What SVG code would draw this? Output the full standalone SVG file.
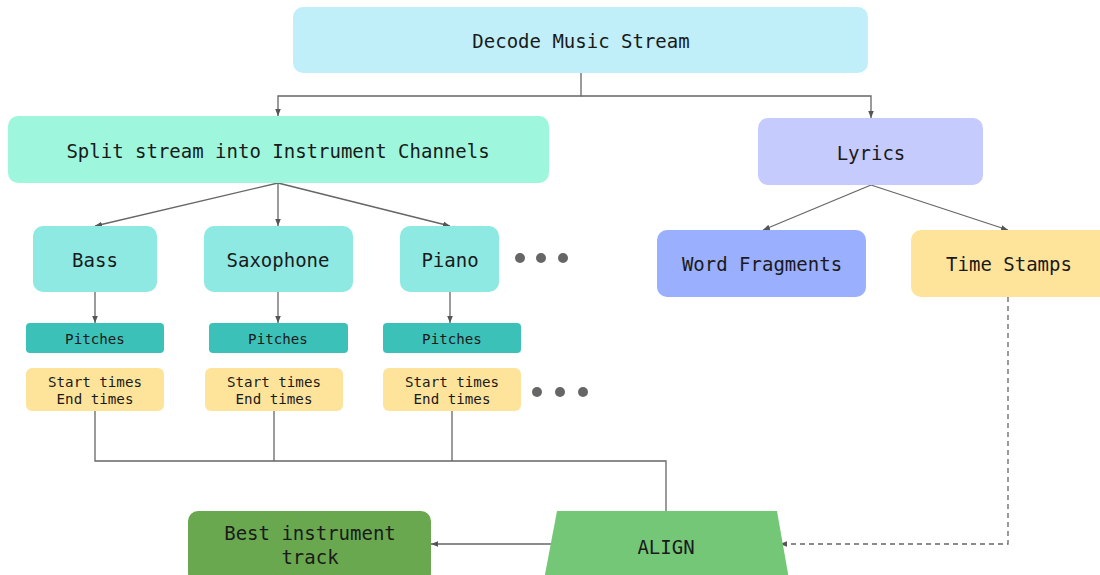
<svg xmlns="http://www.w3.org/2000/svg" width="1100" height="575" viewBox="0 0 1100 575">
  <style>
    .lbl { font-family: "DejaVu Sans Mono", "Liberation Mono", monospace; font-size: 19px; fill: #1a1a1a; text-anchor: middle; dominant-baseline: central; }
    .sm { font-size: 14.2px; }
    .edge { fill: none; stroke: #666; stroke-width: 1.3; }
    .dash { stroke-dasharray: 5 4; }
    .dot { fill: #666; }
  </style>
  <defs>
    <marker id="arrow" viewBox="0 0 10 10" refX="10" refY="5" markerWidth="7" markerHeight="7" orient="auto-start-reverse" markerUnits="userSpaceOnUse">
      <path d="M0,1 L10,5 L0,9 Z" fill="#555"/>
    </marker>
  </defs>

  <!-- connectors -->
  <g id="connectors">
    <path class="edge" d="M581,73 V96 H278 V116" marker-end="url(#arrow)"/>
    <path class="edge" d="M581,96 H871 V118" marker-end="url(#arrow)"/>
    <path class="edge" d="M278,183 L95,226" marker-end="url(#arrow)"/>
    <path class="edge" d="M278,183 V226" marker-end="url(#arrow)"/>
    <path class="edge" d="M278,183 L450,226" marker-end="url(#arrow)"/>
    <path class="edge" d="M95,292 V323" marker-end="url(#arrow)"/>
    <path class="edge" d="M278,292 V323" marker-end="url(#arrow)"/>
    <path class="edge" d="M450,292 V323" marker-end="url(#arrow)"/>
    <path class="edge" d="M871,185 L763,230" marker-end="url(#arrow)"/>
    <path class="edge" d="M871,185 L1008,230" marker-end="url(#arrow)"/>
    <path class="edge" d="M95,411 V461 H666 V511"/>
    <path class="edge" d="M274,411 V461"/>
    <path class="edge" d="M452,411 V461"/>
    <path class="edge" d="M552,544 H431" marker-end="url(#arrow)"/>
    <path class="edge dash" d="M1008,297 V544 H780" marker-end="url(#arrow)"/>
  </g>

  <g id="decode">
    <rect x="293" y="7" width="575" height="66" rx="10" fill="#c0eff9"/>
    <text class="lbl" x="581" y="41">Decode Music Stream</text>
  </g>
  <g id="split">
    <rect x="8" y="116" width="541" height="67" rx="10" fill="#9ef7dd"/>
    <text class="lbl" x="278" y="151">Split stream into Instrument Channels</text>
  </g>
  <g id="lyrics">
    <rect x="758" y="118" width="225" height="67" rx="10" fill="#c5cbfd"/>
    <text class="lbl" x="871" y="153">Lyrics</text>
  </g>

  <g id="bass">
    <rect x="33" y="226" width="124" height="66" rx="10" fill="#8de9e2"/>
    <text class="lbl" x="95" y="260">Bass</text>
  </g>
  <g id="saxophone">
    <rect x="204" y="226" width="149" height="66" rx="10" fill="#8de9e2"/>
    <text class="lbl" x="278" y="260">Saxophone</text>
  </g>
  <g id="piano">
    <rect x="400" y="226" width="99" height="66" rx="10" fill="#8de9e2"/>
    <text class="lbl" x="450" y="260">Piano</text>
  </g>
  <g id="more-instruments">
    <circle class="dot" cx="520" cy="258" r="5"/>
    <circle class="dot" cx="541" cy="258" r="5"/>
    <circle class="dot" cx="563" cy="258" r="5"/>
  </g>

  <g id="bass-pitches">
    <rect x="26" y="323" width="138" height="30" rx="4" fill="#3cc1b9"/>
    <text class="lbl sm" x="95" y="339">Pitches</text>
  </g>
  <g id="sax-pitches">
    <rect x="209" y="323" width="139" height="30" rx="4" fill="#3cc1b9"/>
    <text class="lbl sm" x="278" y="339">Pitches</text>
  </g>
  <g id="piano-pitches">
    <rect x="383" y="323" width="138" height="30" rx="4" fill="#3cc1b9"/>
    <text class="lbl sm" x="452" y="339">Pitches</text>
  </g>

  <g id="bass-times">
    <rect x="26" y="368" width="138" height="43" rx="6" fill="#fee49a"/>
    <text class="lbl sm" x="95" y="382">Start times</text>
    <text class="lbl sm" x="95" y="399">End times</text>
  </g>
  <g id="sax-times">
    <rect x="205" y="368" width="138" height="43" rx="6" fill="#fee49a"/>
    <text class="lbl sm" x="274" y="382">Start times</text>
    <text class="lbl sm" x="274" y="399">End times</text>
  </g>
  <g id="piano-times">
    <rect x="383" y="368" width="138" height="43" rx="6" fill="#fee49a"/>
    <text class="lbl sm" x="452" y="382">Start times</text>
    <text class="lbl sm" x="452" y="399">End times</text>
  </g>
  <g id="more-times">
    <circle class="dot" cx="537" cy="392" r="5"/>
    <circle class="dot" cx="560" cy="392" r="5"/>
    <circle class="dot" cx="583" cy="392" r="5"/>
  </g>

  <g id="word-fragments">
    <rect x="657" y="230" width="209" height="67" rx="10" fill="#9aaffe"/>
    <text class="lbl" x="762" y="264">Word Fragments</text>
  </g>
  <g id="time-stamps">
    <rect x="911" y="230" width="200" height="67" rx="10" fill="#fee49a"/>
    <text class="lbl" x="1009" y="264">Time Stamps</text>
  </g>

  <g id="align">
    <polygon points="557,511 777,511 790,585 543,585" fill="#74c777"/>
    <text class="lbl" x="666" y="547">ALIGN</text>
  </g>
  <g id="best-track">
    <rect x="188" y="511" width="243" height="72" rx="10" fill="#69a84f"/>
    <text class="lbl" x="310" y="533">Best instrument</text>
    <text class="lbl" x="310" y="557">track</text>
  </g>
</svg>
